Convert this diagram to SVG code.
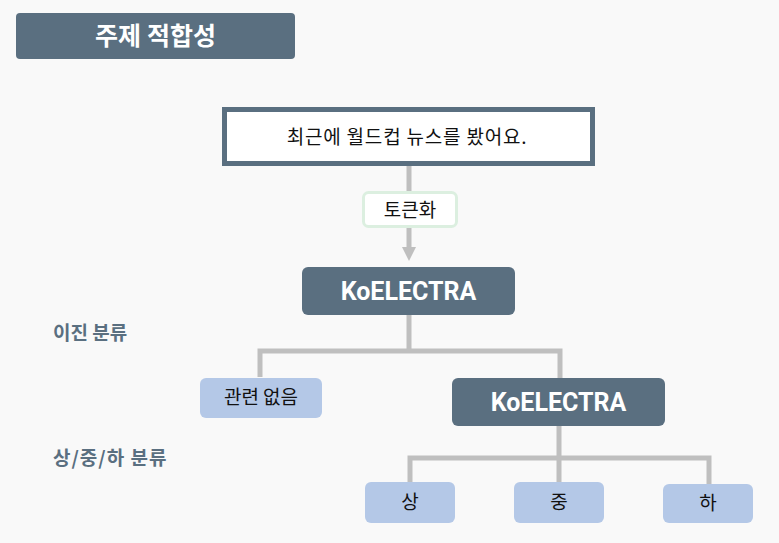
<svg xmlns="http://www.w3.org/2000/svg" width="779" height="543" viewBox="0 0 779 543">
<defs>
<style>
.dark{fill:#5a6f80}
.light{fill:#b4c8e7}
.wt{font-family:Roboto,"Noto Sans CJK KR",sans-serif;font-weight:bold;fill:#ffffff;text-anchor:middle}
.bt{font-family:"Noto Sans CJK KR","Noto Sans",sans-serif;fill:#111111;text-anchor:middle;font-size:19px}
.lbl{font-family:"Noto Sans CJK KR",sans-serif;font-weight:bold;fill:#5a6f80;font-size:19px}
.con{stroke:#bfbfbf;stroke-width:5;fill:none}
</style>
</defs>
<rect width="779" height="543" fill="#f9f9f9"/>
<g id="connectors">
<line class="con" x1="409" y1="166" x2="409" y2="191"/>
<line class="con" x1="409" y1="228" x2="409" y2="247"/>
<path d="M402,247 L416,247 L409,261 z" fill="#bfbfbf"/>
<path class="con" d="M409,315 V351 M260,377 V351 H560 V378"/>
<path class="con" d="M559,426 V458 M410,482 V458 H709 V484 M559,458 V482"/>
</g>
<g id="title">
<rect class="dark" x="16" y="13" width="279" height="46" rx="4"/>
<text class="wt" x="155.5" y="45" font-size="25">주제 적합성</text>
</g>
<g id="sentence">
<rect x="224.5" y="109.5" width="368" height="54" fill="#ffffff" stroke="#5a6f80" stroke-width="5"/>
<text class="bt" x="407" y="144" font-size="20" letter-spacing="0.8">최근에 월드컵 뉴스를 봤어요.</text>
</g>
<g id="tokenize">
<rect x="363.5" y="192.5" width="93" height="34" rx="5" fill="#ffffff" stroke="#dcefe0" stroke-width="3"/>
<text class="bt" x="410" y="217" font-size="21">토큰화</text>
</g>
<g id="koelectra1">
<rect class="dark" x="302" y="267" width="213" height="48" rx="6"/>
<text class="wt" x="408.5" y="300" font-size="25">KoELECTRA</text>
</g>
<g id="label-binary">
<text class="lbl" x="53" y="340">이진 분류</text>
</g>
<g id="irrelevant">
<rect class="light" x="200" y="378" width="122" height="40" rx="6"/>
<text class="bt" x="261" y="404">관련 없음</text>
</g>
<g id="koelectra2">
<rect class="dark" x="452" y="378" width="213" height="48" rx="6"/>
<text class="wt" x="558.5" y="411" font-size="25">KoELECTRA</text>
</g>
<g id="label-multi">
<text class="lbl" x="53" y="465" letter-spacing="1">상/중/하 분류</text>
</g>
<g id="high">
<rect class="light" x="365" y="482" width="90" height="41" rx="6"/>
<text class="bt" x="410" y="509">상</text>
</g>
<g id="mid">
<rect class="light" x="514" y="482" width="90" height="41" rx="6"/>
<text class="bt" x="559" y="509">중</text>
</g>
<g id="low">
<rect class="light" x="663" y="484" width="90" height="39" rx="6"/>
<text class="bt" x="708" y="510">하</text>
</g>
</svg>
